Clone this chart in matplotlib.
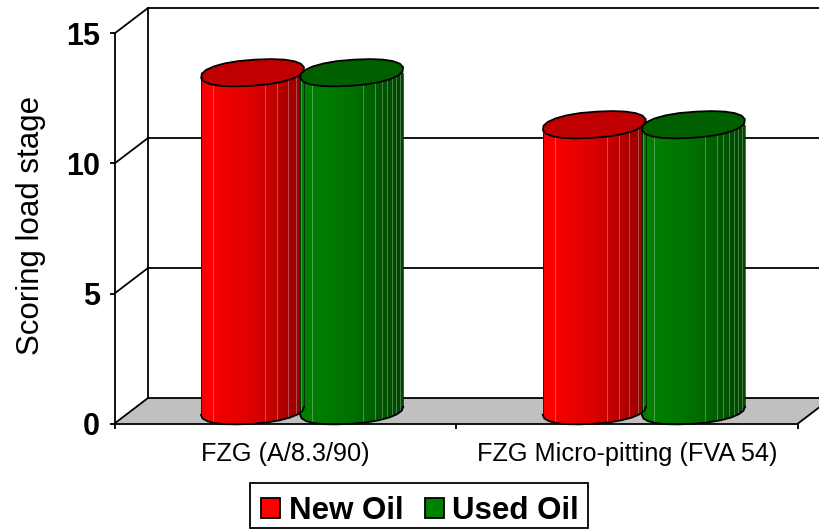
import numpy as np
import matplotlib
matplotlib.use("Agg")
import matplotlib.pyplot as plt
from matplotlib.patches import Patch, Polygon, Rectangle

plt.rcParams["font.family"] = ["Liberation Sans", "DejaVu Sans"]

categories = ["FZG (A/8.3/90)", "FZG Micro-pitting (FVA 54)"]
new_oil = [13, 11]
used_oil = [13, 11]
series_names = ["New Oil", "Used Oil"]
y_ticks = [0, 5, 10, 15]

W, H = 819, 529
LEFT, RIGHT, BOTTOM, TOP = 114.5, 798.0, 423.5, 33.5
LW = 1.3

# depth of the fake 3d box, in data units
DX = 33.5 / ((RIGHT - LEFT) / 2)
DY = 25.5 / ((BOTTOM - TOP) / 15)
BAR_STEP = 0.29
BAR_A = 0.151
ELL_B = 13.0 / 26
ELL_K = 4.0 / 26

RED_STOPS = [(0, "#f80000"), (0.06, "#ff0000"), (0.2, "#f00000"), (0.5, "#dc0000"),
             (0.7, "#c00000"), (0.85, "#a80000"), (1, "#900000")]
GREEN_STOPS = [(0, "#007800"), (0.06, "#008000"), (0.2, "#007c00"), (0.5, "#007000"),
               (0.7, "#006000"), (0.85, "#005000"), (1, "#004400")]
RED_FACETS = [0.12, 0.62, 0.74, 0.84, 0.92, 0.97]
GREEN_FACETS = [0.12, 0.61, 0.73, 0.79, 0.84, 0.89, 0.93, 0.97]


def hex_rgb(h):
    return np.array([int(h[i:i + 2], 16) / 255 for i in (1, 3, 5)])


def gradient(stops, n=120):
    f = np.linspace(0, 1, n)
    xs = [s[0] for s in stops]
    cols = np.array([hex_rgb(s[1]) for s in stops])
    return np.stack([np.interp(f, xs, cols[:, i]) for i in range(3)], axis=1)[None, :, :]


def blob(t):
    # slightly squarer than an ellipse, the original top is a rough polygon
    return np.sign(np.cos(t)) * np.abs(np.cos(t)) ** 0.9, np.sign(np.sin(t)) * np.abs(np.sin(t)) ** 0.9


def ring(cx, cy, n=22):
    t = np.linspace(0, 2 * np.pi, n, endpoint=False) + 0.1
    c, s = blob(t)
    x = cx + BAR_A * c
    y = cy + ELL_B * s + ELL_K * np.cos(t)
    return x, y


def low_arc(cx, base, n=13):
    t = np.linspace(np.pi, 2 * np.pi, n)
    c, s = blob(t)
    return cx + BAR_A * c, base + ELL_B * s + ELL_K * np.cos(t)


def draw_cylinder(ax, cx, value, stops, top_col, facets):
    base = DY / 2
    top = value + DY / 2
    ax_x, ax_y = low_arc(cx, base)

    body = Polygon(np.r_[np.c_[ax_x, ax_y], [[cx + BAR_A, top], [cx - BAR_A, top]]],
                   closed=True, transform=ax.transData, facecolor="none", edgecolor="none")
    ax.add_patch(body)
    im = ax.imshow(gradient(stops), extent=(cx - BAR_A, cx + BAR_A, 0, top), aspect="auto",
                   interpolation="bilinear", zorder=3)
    im.set_clip_path(body)

    # lighter seams between facets
    for f in facets:
        x = cx - BAR_A + f * 2 * BAR_A
        y0 = np.interp(x, ax_x, ax_y)
        ax.plot([x, x], [y0, top], color="white", alpha=0.3, lw=0.7, zorder=3.1)

    # outline, bottom arc and sides
    ax.plot(ax_x, ax_y, color="black", lw=LW, zorder=3.2, clip_on=False)
    ax.plot([cx - BAR_A] * 2, [ax_y[0], top], color="black", alpha=0.6, lw=0.7, zorder=3.2)
    ax.plot([cx + BAR_A] * 2, [ax_y[-1], top], color="black", alpha=0.6, lw=0.7, zorder=3.2)

    x, y = ring(cx, top)
    ax.add_patch(Polygon(np.c_[x, y], closed=True, facecolor=top_col, edgecolor="black",
                         lw=LW, zorder=3.3))


fig = plt.figure(figsize=(W / 100, H / 100), dpi=100)
ax = fig.add_axes([LEFT / W, 1 - BOTTOM / H, (RIGHT - LEFT) / W, (BOTTOM - TOP) / H])
ax.patch.set_visible(False)

# floor
floor = [(0, 0), (DX, DY), (len(categories) + DX, DY), (len(categories), 0)]
ax.add_patch(Polygon(floor, closed=True, facecolor="#c0c0c0", edgecolor="none", zorder=1, clip_on=False))

# back wall and the slanted lines from the axis
ax.plot([DX, DX], [DY, 15 + DY], color="black", lw=LW, zorder=2, clip_on=False)
for v in y_ticks:
    ax.plot([DX, len(categories) + DX], [v + DY, v + DY], color="black", lw=LW, zorder=2, clip_on=False)
    ax.plot([0, DX], [v, v + DY], color="black", lw=LW, zorder=2, clip_on=False)
ax.plot([len(categories), len(categories) + DX], [0, DY], color="black", lw=LW, zorder=2, clip_on=False)

for i in range(len(categories)):
    mid = i + 0.5 + DX / 2
    draw_cylinder(ax, mid - BAR_STEP / 2, new_oil[i], RED_STOPS, "#c00000", RED_FACETS)
    draw_cylinder(ax, mid + BAR_STEP / 2, used_oil[i], GREEN_STOPS, "#006000", GREEN_FACETS)

ax.set_xlim(0, len(categories))
ax.set_ylim(0, 15)

for s in ("top", "right"):
    ax.spines[s].set_visible(False)
for s in ("left", "bottom"):
    ax.spines[s].set_linewidth(LW)
    ax.spines[s].set_zorder(4)

ax.set_yticks(y_ticks)
ax.set_yticklabels([str(v) for v in y_ticks], fontsize=22, fontweight="bold")
ax.set_xticks(range(len(categories) + 1))
ax.set_xticklabels([])
ax.set_xticks([i + 0.5 for i in range(len(categories))], minor=True)
ax.set_xticklabels(categories, minor=True, fontsize=18.2)
ax.tick_params(axis="x", which="minor", length=0, pad=13)
ax.tick_params(axis="x", which="major", length=3.5, width=LW)
ax.tick_params(axis="y", length=3.5, width=LW, pad=7)

ax.set_ylabel("Scoring load stage", fontsize=22.5)
ax.yaxis.set_label_coords(-0.100, 0.508)

# legend box sits higher than its text in the reference, so draw it apart
fig.add_artist(Rectangle((250 / W, 1 - 527.5 / H), 338 / W, 44.5 / H, transform=fig.transFigure,
                         facecolor="white", edgecolor="black", lw=LW))
handles = [Patch(facecolor="#ff0000", edgecolor="black", lw=LW),
           Patch(facecolor="#008000", edgecolor="black", lw=LW)]
fig.legend(handles, series_names, loc="center", bbox_to_anchor=(420 / W, 1 - 511 / H),
           ncols=2, frameon=False, prop={"size": 22.5, "weight": "bold"},
           handlelength=0.62, handleheight=0.62, handletextpad=0.27, columnspacing=0.68,
           borderpad=0, borderaxespad=0)

fig.savefig("out.png", dpi=100)
